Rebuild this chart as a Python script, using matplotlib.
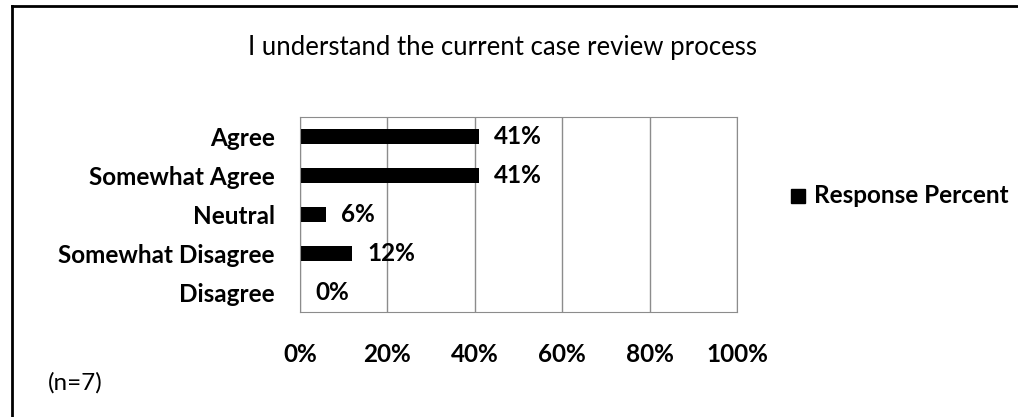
import numpy as np
import matplotlib.pyplot as plt
from matplotlib.lines import Line2D
from matplotlib.patches import Rectangle

plt.rcParams['font.family'] = ['Lato', 'DejaVu Sans']

# data
categories = ['Agree', 'Somewhat Agree', 'Neutral', 'Somewhat Disagree', 'Disagree']
values = [41, 41, 6, 12, 0]
value_labels = ['41%', '41%', '6%', '12%', '0%']
xticks = [0, 20, 40, 60, 80, 100]
xtick_labels = ['0%', '20%', '40%', '60%', '80%', '100%']
title = 'I understand the current case review process'
legend_label = 'Response Percent'
note = '(n=7)'

W, H = 1018, 417
fs = 17.5
fig = plt.figure(figsize=(W / 100, H / 100), dpi=100)

# plot area in pixels: x 300..737, y 117..312
ax = fig.add_axes([300 / W, 1 - 312 / H, 437 / W, 195 / H])
y = np.arange(len(categories))
ax.barh(y, values, height=0.39, color='black')
ax.set_xlim(0, 100)
ax.set_ylim(len(categories) - 0.5, -0.5)
ax.set_yticks(y)
ax.set_yticklabels(categories, fontsize=fs, fontweight='bold')
ax.set_xticks(xticks)
ax.set_xticklabels([])
ax.tick_params(length=0)
ax.tick_params(axis='y', pad=18)
ax.xaxis.grid(True, color='#8c8c8c', linewidth=1)
ax.set_axisbelow(True)
for s in ax.spines.values():
    s.set_color('#8c8c8c')

for yi, v, lab in zip(y, values, value_labels):
    ax.annotate(lab, (v, yi), xytext=(15, 0), textcoords='offset pixels',
                va='center', ha='left', fontsize=fs, fontweight='bold')

# tick labels sit well below the plot area
for xt, lab in zip(xticks, xtick_labels):
    ax.annotate(lab, (xt, 0), xycoords=('data', 'axes fraction'),
                xytext=(0, -(354 - 312)), textcoords='offset pixels',
                ha='center', va='center', fontsize=fs, fontweight='bold')

fig.text(503 / W, 1 - 47 / H, title, ha='center', va='center', fontsize=18.5)
fig.text(48 / W, 1 - 383 / H, note, ha='left', va='center', fontsize=fs)

# legend
fig.patches.append(Rectangle((791 / W, 1 - 203 / H), 14 / W, 14 / H,
                             transform=fig.transFigure, color='black'))
fig.text(814 / W, 1 - 196 / H, legend_label, ha='left', va='center',
         fontsize=fs, fontweight='bold')

# outer frame (only top and left visible)
fig.add_artist(Line2D([12 / W, 1], [1 - 6 / H, 1 - 6 / H], color='black', linewidth=2))
fig.add_artist(Line2D([12 / W, 12 / W], [0, 1 - 6 / H], color='black', linewidth=2))

fig.savefig('out.png', dpi=100)
